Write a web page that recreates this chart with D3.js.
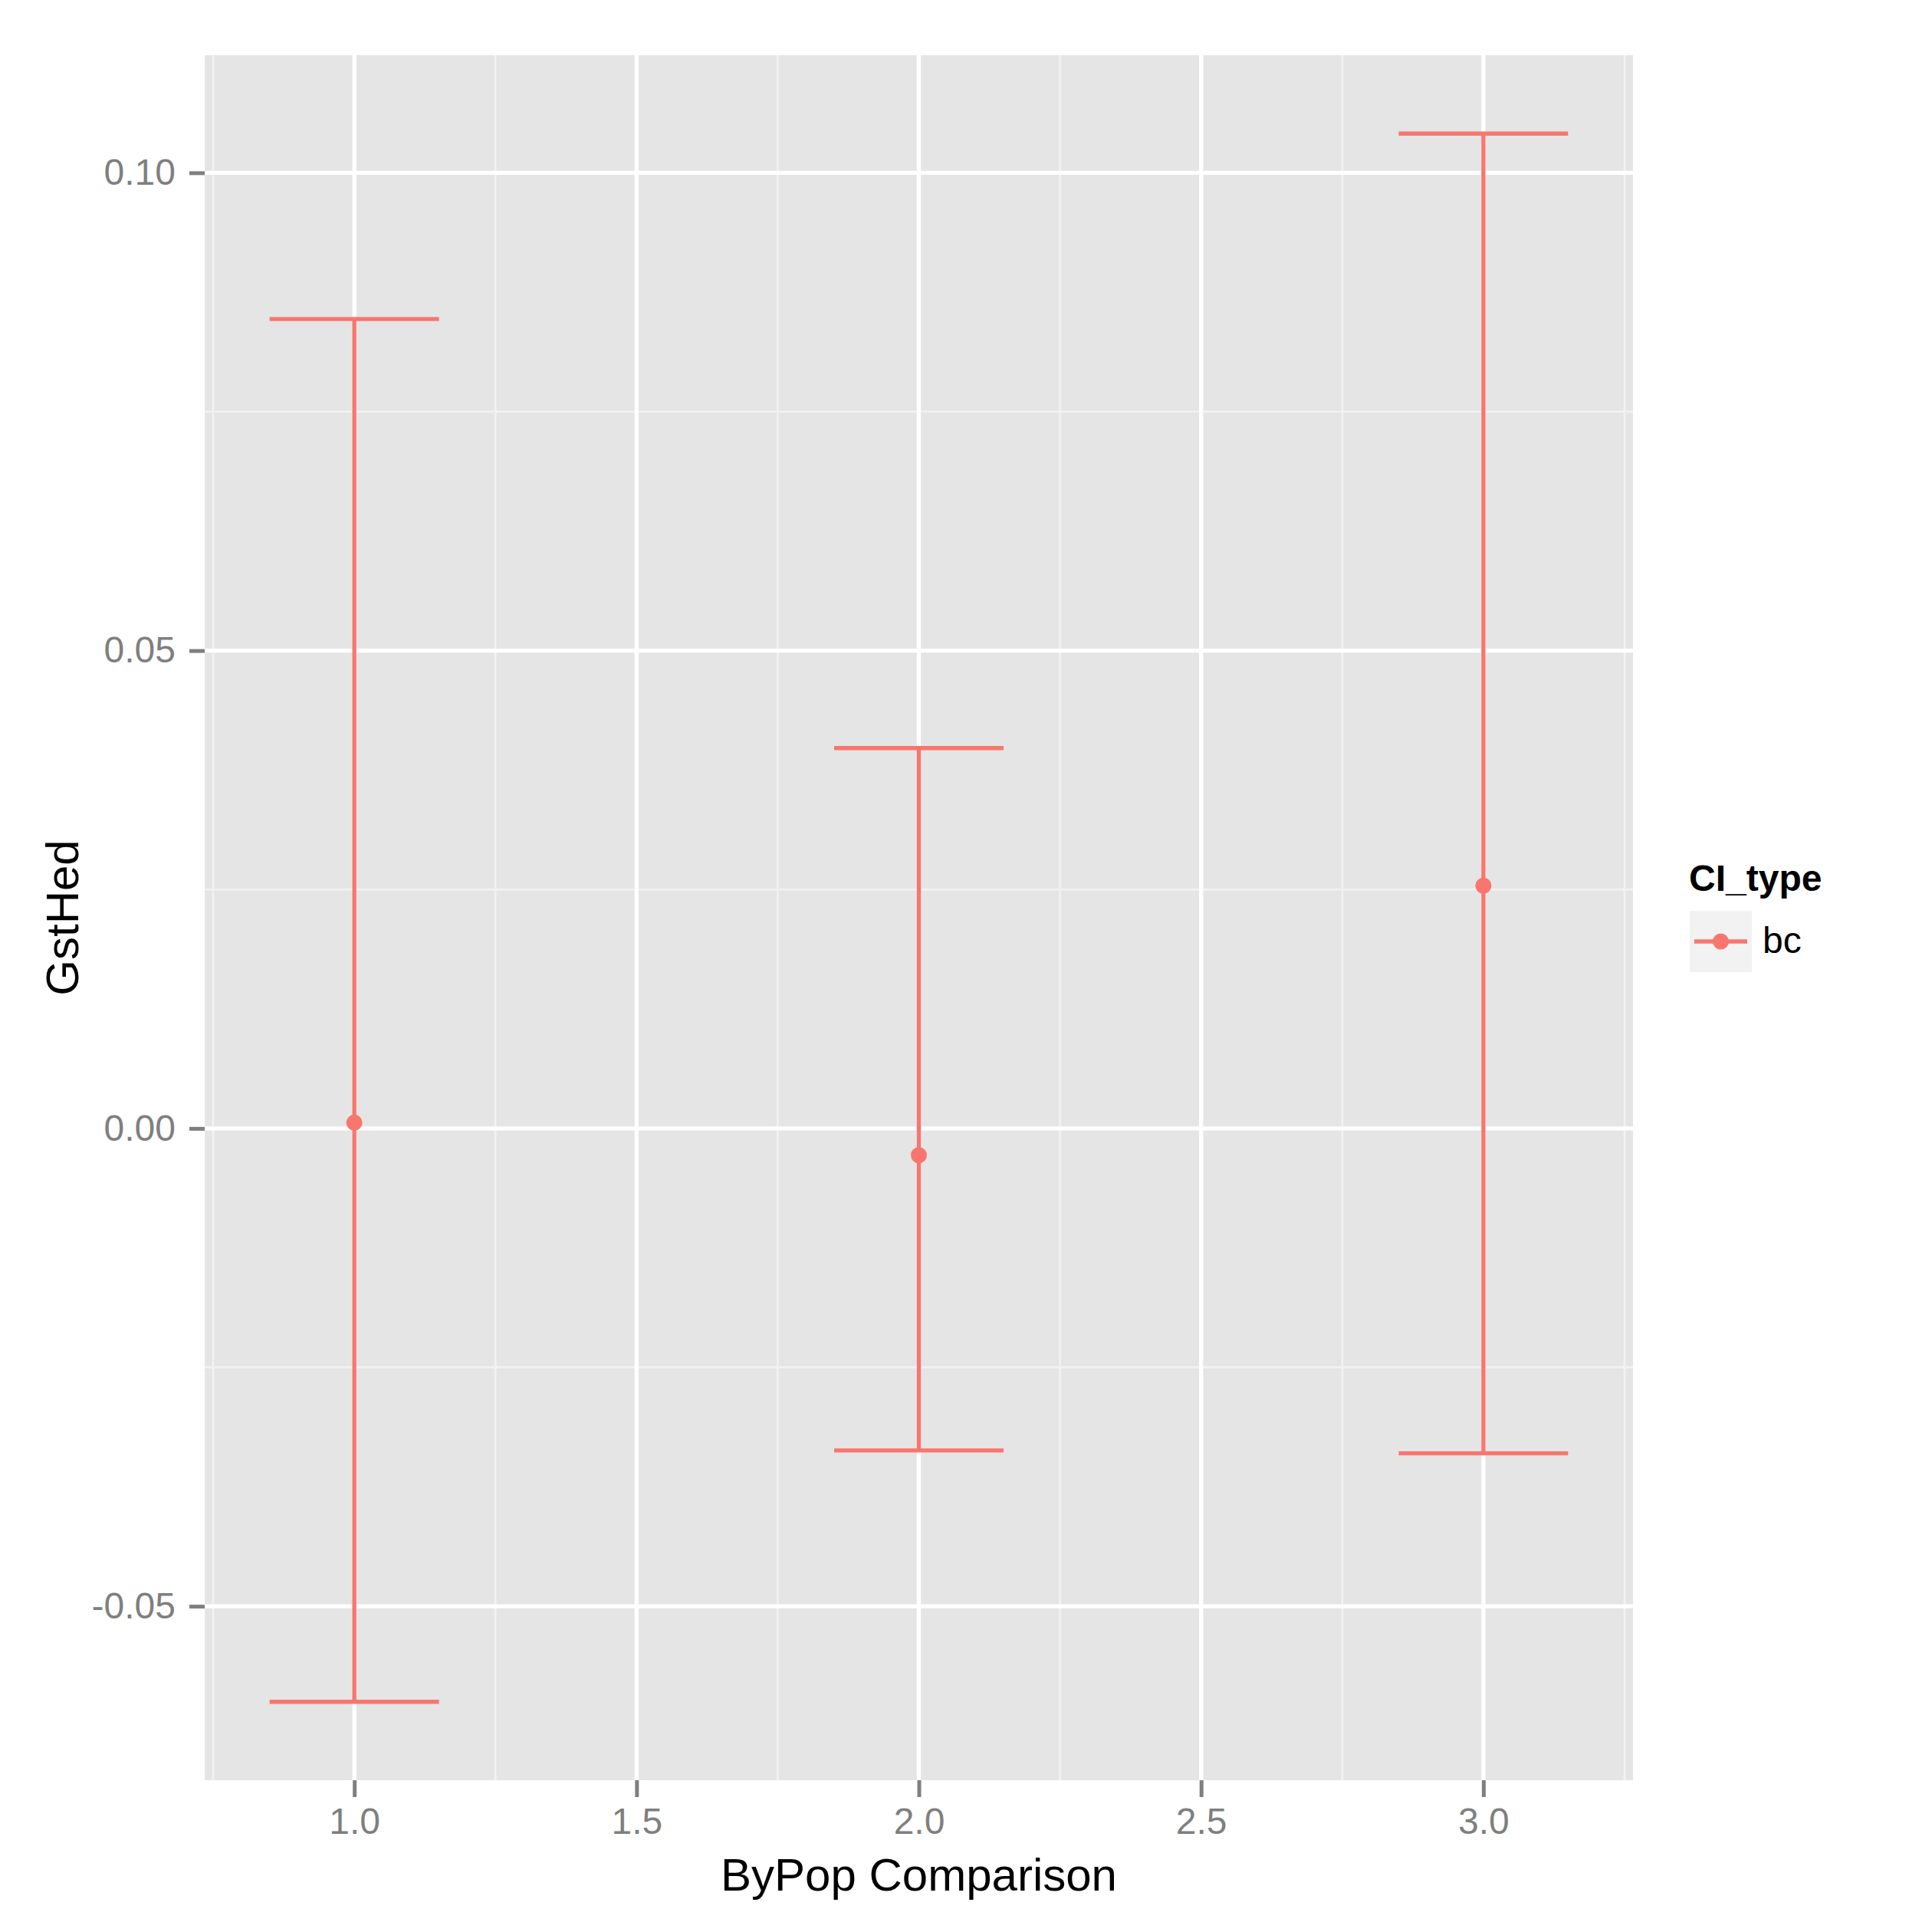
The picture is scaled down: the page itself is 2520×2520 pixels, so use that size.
<!DOCTYPE html>
<html>
<head>
<meta charset="utf-8">
<script src="https://cdn.jsdelivr.net/npm/d3@7"></script>
<style>
	body { margin: 0; background: #fff; }
	text { font-family: "Liberation Sans", Arial, Helvetica, sans-serif; }
</style>
</head>
<body>
<div id="chart"></div>
<script>
// values
var comparisons = [1, 2, 3];
var gstHed = [0.0006, -0.0028, 0.0254];
var lower = [-0.0600, -0.0337, -0.0340];
var upper = [0.0847, 0.0398, 0.1041];
var ciTypes = ["bc"];
var xTicks = [1.0, 1.5, 2.0, 2.5, 3.0];
var yTicks = [-0.05, 0.00, 0.05, 0.10];

var W = 2520, H = 2520;
var panel = {left: 267, right: 2130, top: 72, bottom: 2322};
var barWidth = 0.3;
var red = "#F8766D";

// plain hyphen for negatives, like R does
var locale = d3.formatLocale({decimal: ".", thousands: ",", grouping: [3], currency: ["", ""], minus: "-"});

function expand(lo, hi) {
	var pad = (hi - lo) * 0.05;
	return [lo - pad, hi + pad];
}

var x = d3.scaleLinear()
	.domain(expand(d3.min(comparisons) - barWidth / 2, d3.max(comparisons) + barWidth / 2))
	.range([panel.left, panel.right]);
var y = d3.scaleLinear()
	.domain(expand(d3.min(lower), d3.max(upper)))
	.range([panel.bottom, panel.top]);

var svg = d3.select("#chart").append("svg")
	.attr("width", W)
	.attr("height", H);

svg.append("rect").attr("width", W).attr("height", H).attr("fill", "#fff");

svg.append("rect")
	.attr("x", panel.left).attr("y", panel.top)
	.attr("width", panel.right - panel.left)
	.attr("height", panel.bottom - panel.top)
	.attr("fill", "#E5E5E5");

// minor grid: midpoints between breaks
function minors(ticks, dom) {
	var step = ticks[1] - ticks[0], out = [];
	for (var v = ticks[0] - step / 2; v <= ticks[ticks.length - 1] + step; v += step) {
		if (v >= dom[0] && v <= dom[1]) out.push(v);
	}
	return out;
}

var grid = svg.append("g");
grid.selectAll("line.xminor")
		.data(minors(xTicks, x.domain()))
	.enter().append("line")
		.attr("x1", function (d) { return x(d); }).attr("x2", function (d) { return x(d); })
		.attr("y1", panel.top).attr("y2", panel.bottom)
		.attr("stroke", "#F2F2F2").attr("stroke-width", 2.7);
grid.selectAll("line.yminor")
		.data(minors(yTicks, y.domain()))
	.enter().append("line")
		.attr("y1", function (d) { return y(d); }).attr("y2", function (d) { return y(d); })
		.attr("x1", panel.left).attr("x2", panel.right)
		.attr("stroke", "#F2F2F2").attr("stroke-width", 2.7);
grid.selectAll("line.xmajor")
		.data(xTicks)
	.enter().append("line")
		.attr("x1", function (d) { return x(d); }).attr("x2", function (d) { return x(d); })
		.attr("y1", panel.top).attr("y2", panel.bottom)
		.attr("stroke", "#fff").attr("stroke-width", 5.3);
grid.selectAll("line.ymajor")
		.data(yTicks)
	.enter().append("line")
		.attr("y1", function (d) { return y(d); }).attr("y2", function (d) { return y(d); })
		.attr("x1", panel.left).attr("x2", panel.right)
		.attr("stroke", "#fff").attr("stroke-width", 5.3);

// axes
var xAxis = d3.axisBottom(x).tickValues(xTicks).tickFormat(locale.format(".1f"))
	.tickSize(22).tickPadding(14);
var yAxis = d3.axisLeft(y).tickValues(yTicks).tickFormat(locale.format(".2f"))
	.tickSize(20).tickPadding(18);

var gx = svg.append("g").attr("transform", "translate(0," + panel.bottom + ")").call(xAxis);
var gy = svg.append("g").attr("transform", "translate(" + panel.left + ",0)").call(yAxis);
[gx, gy].forEach(function (g) {
	g.select(".domain").remove();
	g.selectAll(".tick line").attr("stroke", "#7F7F7F").attr("stroke-width", 5);
	g.selectAll(".tick text")
		.attr("fill", "#7F7F7F")
		.style("font-size", "48px")
		.style("font-family", '"Liberation Sans", Arial, sans-serif');
});

// error bars
var data = comparisons.map(function (c, i) {
	return {x: c, y: gstHed[i], lo: lower[i], hi: upper[i]};
});
var bars = svg.append("g").selectAll("g").data(data).enter().append("g")
	.attr("stroke", red).attr("stroke-width", 5.3);
bars.append("line")
	.attr("x1", function (d) { return x(d.x); }).attr("x2", function (d) { return x(d.x); })
	.attr("y1", function (d) { return y(d.lo); }).attr("y2", function (d) { return y(d.hi); });
bars.append("line")
	.attr("x1", function (d) { return x(d.x - barWidth / 2); }).attr("x2", function (d) { return x(d.x + barWidth / 2); })
	.attr("y1", function (d) { return y(d.hi); }).attr("y2", function (d) { return y(d.hi); });
bars.append("line")
	.attr("x1", function (d) { return x(d.x - barWidth / 2); }).attr("x2", function (d) { return x(d.x + barWidth / 2); })
	.attr("y1", function (d) { return y(d.lo); }).attr("y2", function (d) { return y(d.lo); });

svg.append("g").selectAll("circle").data(data).enter().append("circle")
	.attr("cx", function (d) { return x(d.x); })
	.attr("cy", function (d) { return y(d.y); })
	.attr("r", 10.5)
	.attr("fill", red);

// axis titles
svg.append("text")
	.attr("x", (panel.left + panel.right) / 2).attr("y", 2466)
	.attr("text-anchor", "middle")
	.style("font-size", "60px").attr("fill", "#000")
	.text("ByPop Comparison");
svg.append("text")
	.attr("transform", "translate(102," + (panel.top + panel.bottom) / 2 + ") rotate(-90)")
	.attr("text-anchor", "middle")
	.style("font-size", "60px").attr("fill", "#000")
	.text("GstHed");

// legend
var legend = svg.append("g");
legend.append("text")
	.attr("x", 2203).attr("y", 1162)
	.style("font-size", "48px").style("font-weight", "bold").attr("fill", "#000")
	.text("CI_type");
var key = legend.selectAll("g.key").data(ciTypes).enter().append("g")
	.attr("transform", function (d, i) { return "translate(2204," + (1188 + i * 80) + ")"; });
key.append("rect").attr("width", 81).attr("height", 80).attr("fill", "#F2F2F2");
key.append("line").attr("x1", 6).attr("x2", 75).attr("y1", 40).attr("y2", 40)
	.attr("stroke", red).attr("stroke-width", 5.3);
key.append("circle").attr("cx", 40.5).attr("cy", 40).attr("r", 10.5).attr("fill", red);
key.append("text").attr("x", 95).attr("y", 55)
	.style("font-size", "48px").attr("fill", "#000")
	.text(function (d) { return d; });
</script>
</body>
</html>
